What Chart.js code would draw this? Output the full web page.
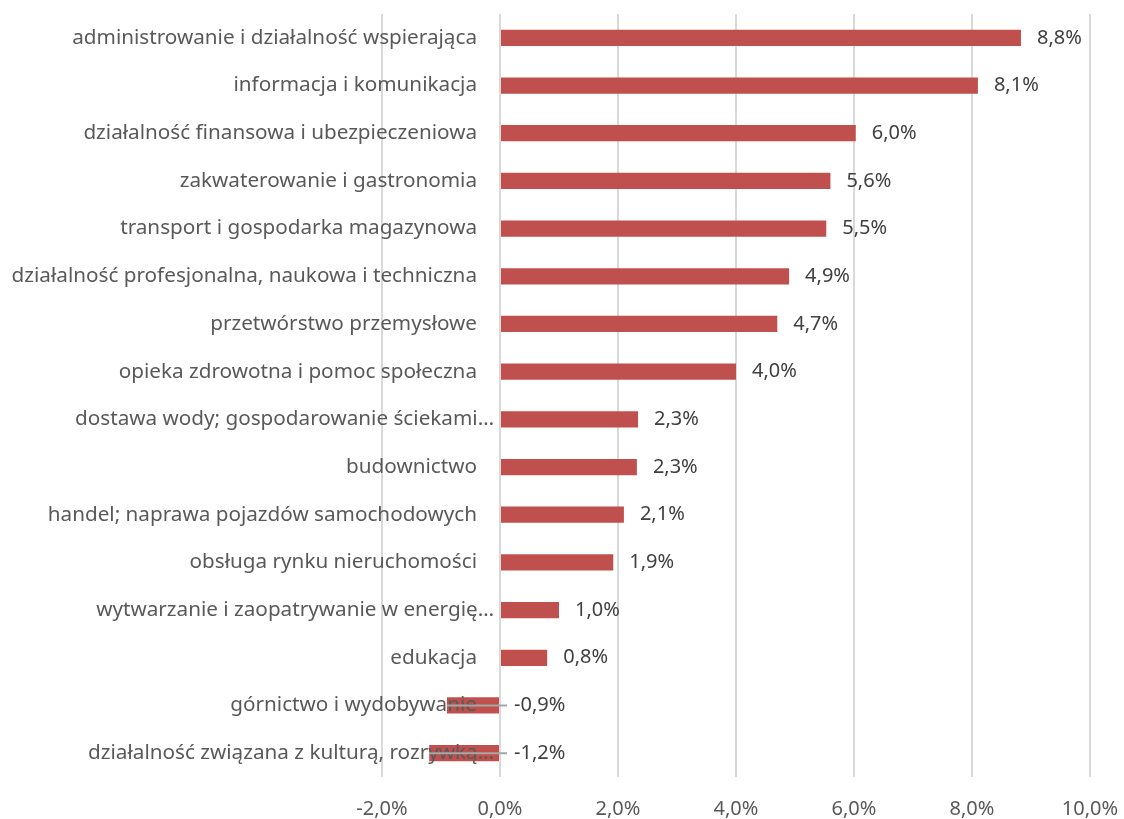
<!DOCTYPE html>
<html>
<head>
<meta charset="utf-8">
<script src="https://cdn.jsdelivr.net/npm/chart.js@4"></script>
<style>
  html, body { margin: 0; padding: 0; background: #fff; }
  #wrap { width: 1124px; height: 819px; }
</style>
</head>
<body>
<div id="wrap"><canvas id="chart" width="1124" height="819"></canvas></div>
<script>
// Branches and their change (%)
const categories = [
    'administrowanie i działalność wspierająca',
    'informacja i komunikacja',
    'działalność finansowa i ubezpieczeniowa',
    'zakwaterowanie i gastronomia',
    'transport i gospodarka magazynowa',
    'działalność profesjonalna, naukowa i techniczna',
    'przetwórstwo przemysłowe',
    'opieka zdrowotna i pomoc społeczna',
    'dostawa wody; gospodarowanie ściekami…',
    'budownictwo',
    'handel; naprawa pojazdów samochodowych',
    'obsługa rynku nieruchomości',
    'wytwarzanie i zaopatrywanie w energię…',
    'edukacja',
    'górnictwo i wydobywanie',
    'działalność związana z kulturą, rozrywką…'
];
const values = [8.83, 8.1, 6.03, 5.6, 5.53, 4.9, 4.7, 4.0, 2.34, 2.32, 2.1, 1.92, 1.0, 0.8, -0.9, -1.2];

const xMin = -2;
const xMax = 10;
const xStep = 2;

const fmt = v => v.toFixed(1).replace('.', ',') + '%';
const FONT = '"Noto Sans", sans-serif';

// category names + value labels drawn next to the zero line
const labelsPlugin = {
    id: 'barLabels',
    afterDatasetsDraw(chart) {
        const ctx = chart.ctx;
        const xs = chart.scales.x;
        const zero = xs.getPixelForValue(0);
        const meta = chart.getDatasetMeta(0);
        ctx.save();
        ctx.textBaseline = 'middle';
        meta.data.forEach((bar, i) => {
            const v = values[i];
            const y = bar.y;

            // category name
            const name = categories[i];
            ctx.font = '20.7px ' + FONT;
            ctx.fillStyle = '#595959';
            ctx.textAlign = 'right';
            const right = name.endsWith('…') ? zero - 6 : zero - 23;
            ctx.fillText(name, right, y);

            // value label
            ctx.font = '20px ' + FONT;
            ctx.fillStyle = '#404040';
            ctx.textAlign = 'left';
            let lx;
            if (v >= 0) {
                lx = bar.x + 16;
            } else {
                lx = zero + 14;
                // leader line
                ctx.strokeStyle = '#a6a6a6';
                ctx.lineWidth = 2;
                ctx.beginPath();
                ctx.moveTo(bar.x, y);
                ctx.lineTo(lx - 7, y);
                ctx.stroke();
            }
            ctx.fillText(fmt(v), lx, y);
        });
        ctx.restore();
    }
};

const ctx = document.getElementById('chart').getContext('2d');
const chart = new Chart(ctx, {
    type: 'bar',
    data: {
        labels: categories,
        datasets: [{
            data: values,
            backgroundColor: '#C0504D',
            borderWidth: 0,
            categoryPercentage: 1,
            barPercentage: 0.34
        }]
    },
    options: {
        indexAxis: 'y',
        responsive: false,
        animation: false,
        layout: { padding: { left: 382, right: 34, top: 14, bottom: 0 } },
        plugins: {
            legend: { display: false },
            tooltip: { enabled: false }
        },
        scales: {
            x: {
                min: xMin,
                max: xMax,
                border: { display: false },
                grid: { color: '#d9d9d9', lineWidth: 2, drawTicks: false },
                ticks: {
                    stepSize: xStep,
                    padding: 20,
                    color: '#595959',
                    font: { family: FONT, size: 20 },
                    callback: v => fmt(v)
                },
                afterFit(scale) {
                    scale.height = 42;
                    scale.paddingLeft = 0;
                    scale.paddingRight = 0;
                }
            },
            y: {
                display: false
            }
        }
    },
    plugins: [labelsPlugin]
});
</script>
</body>
</html>
